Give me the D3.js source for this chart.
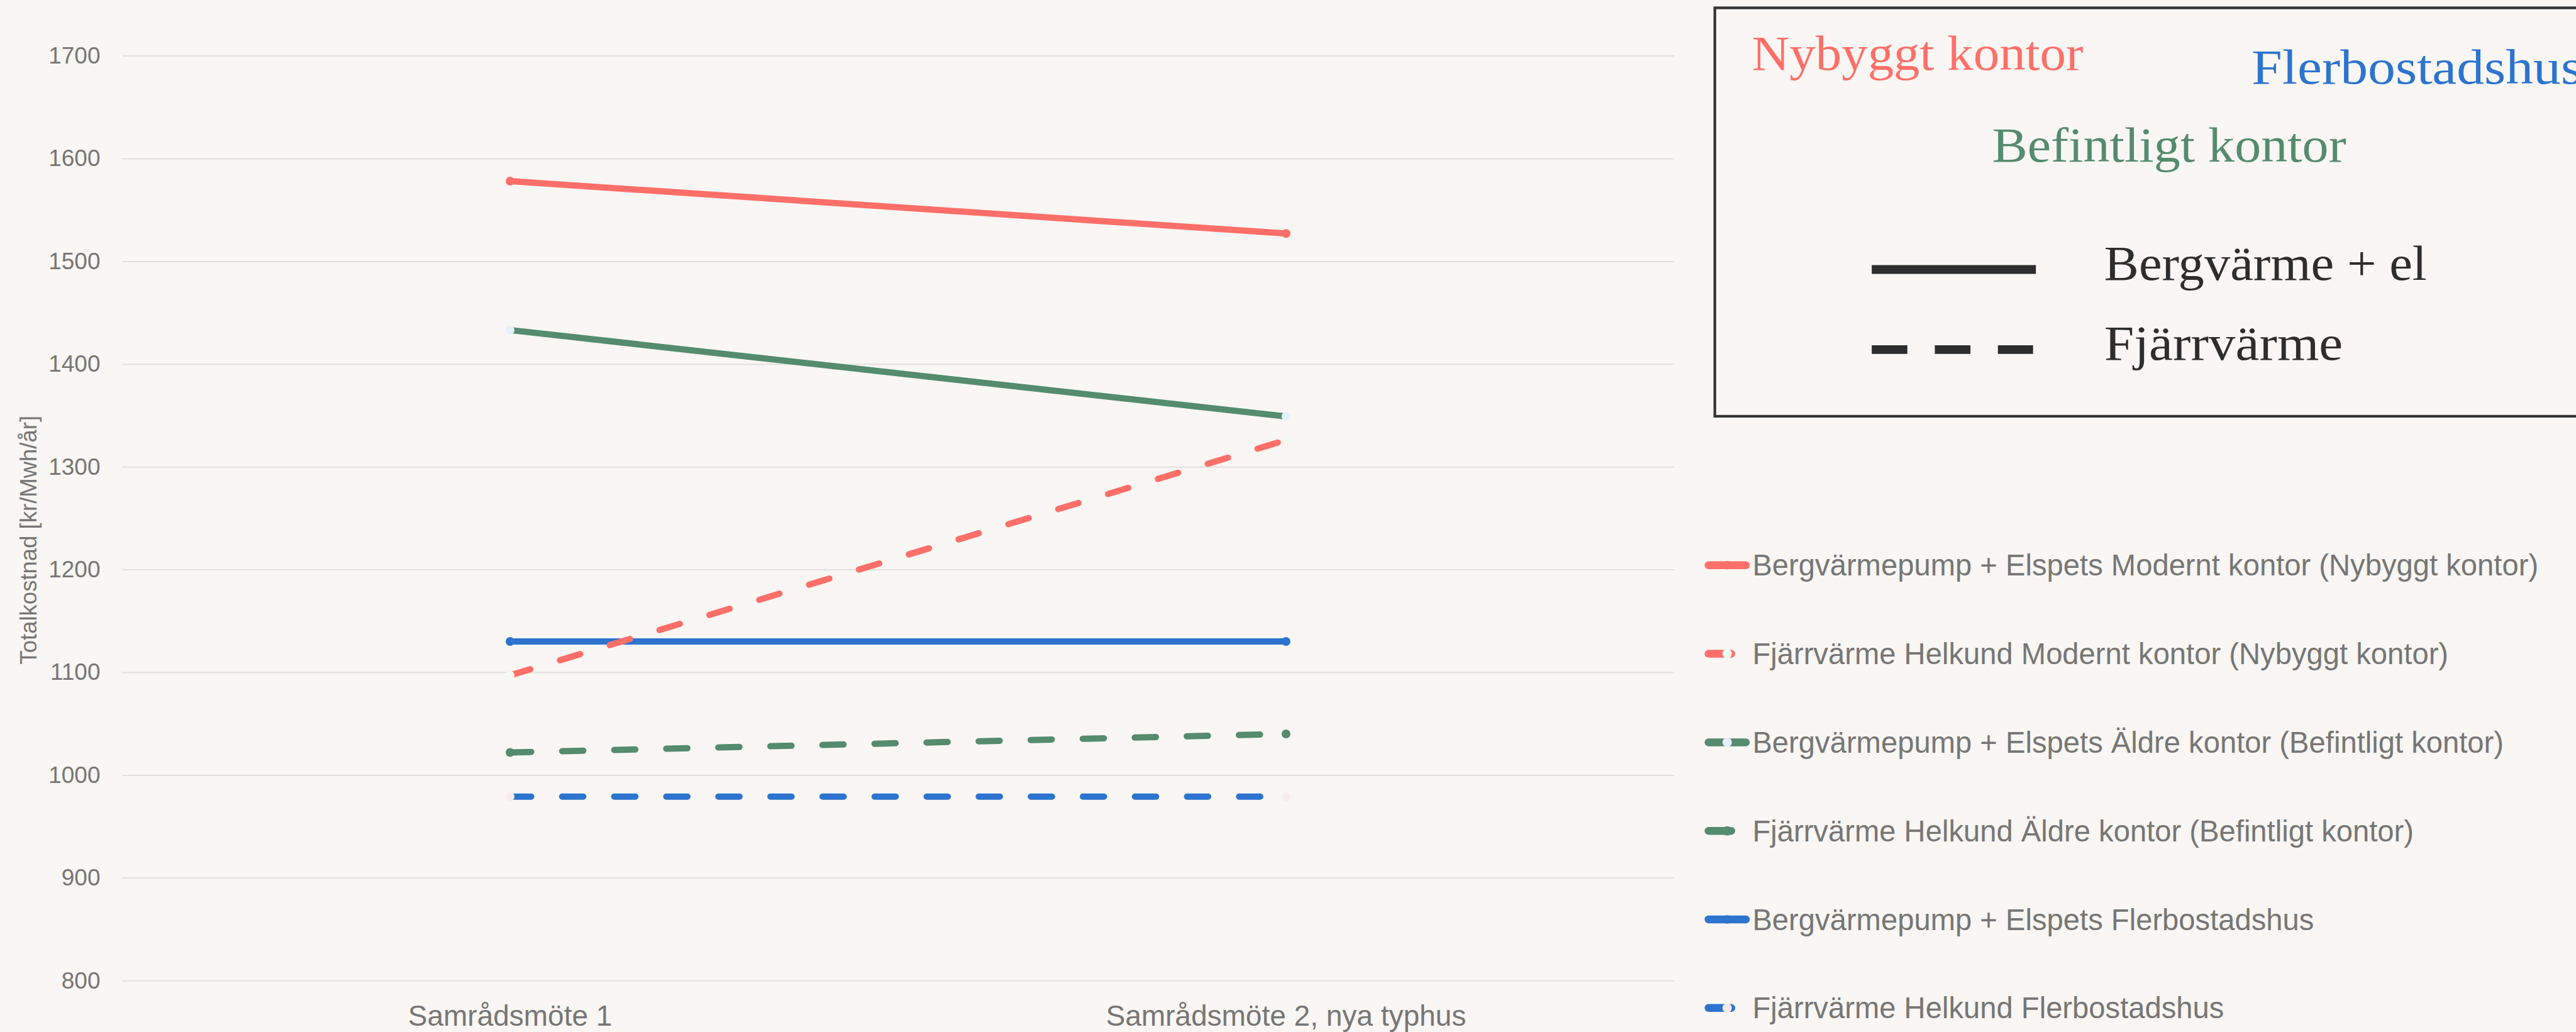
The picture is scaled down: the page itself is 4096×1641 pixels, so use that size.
<!DOCTYPE html>
<html lang="sv">
<head>
<meta charset="utf-8">
<script src="https://cdn.jsdelivr.net/npm/d3@7"></script>
<style>
  html, body { margin: 0; padding: 0; background: #f9f6f3; }
  svg { display: block; }
</style>
</head>
<body>
<svg id="chart" width="4096" height="1641"></svg>
<script>
// ---- Data ----
const categories = ["Samrådsmöte 1", "Samrådsmöte 2, nya typhus"];

const seriesNames = [
  "Bergvärmepump + Elspets Modernt kontor (Nybyggt kontor)",
  "Fjärrvärme Helkund Modernt kontor (Nybyggt kontor)",
  "Bergvärmepump + Elspets Äldre kontor (Befintligt kontor)",
  "Fjärrvärme Helkund Äldre kontor (Befintligt kontor)",
  "Bergvärmepump + Elspets Flerbostadshus",
  "Fjärrvärme Helkund Flerbostadshus"
];
const seriesValues = [
  [1578, 1527],
  [1097, 1326],
  [1433, 1349],
  [1022, 1040],
  [1130, 1130],
  [979, 979]
];
const seriesColors = ["#ff6f69", "#ff6f69", "#558b6e", "#558b6e", "#2c74cf", "#2c74cf"];
const markerColors = ["#ff6f69", "#f3faf1", "#e4effc", "#558b6e", "#2c74cf", "#f8ebea"];
const seriesDashed = [false, true, false, true, false, true];

const yTicks = [800, 900, 1000, 1100, 1200, 1300, 1400, 1500, 1600, 1700];
const yTitle = "Totalkostnad [kr/Mwh/år]";

const groupLabels = ["Nybyggt kontor", "Flerbostadshus", "Befintligt kontor"];
const groupColors = ["#ff6f69", "#2c74cf", "#558b6e"];
const styleLabels = ["Bergvärme + el", "Fjärrvärme"];

// ---- Layout ----
const W = 4096, H = 1641;
const plot = { left: 194.2, right: 2661.7, top: 88.6, bottom: 1559.2 };
const sansFont = "'Liberation Sans', Arial, sans-serif";
const serifFont = "'Liberation Serif', 'DejaVu Serif', serif";
const textGrey = "#767676";

const svg = d3.select("#chart");
svg.append("rect").attr("width", W).attr("height", H).attr("fill", "#f9f6f3");

const x = d3.scaleBand().domain(categories).range([plot.left, plot.right]);
const y = d3.scaleLinear().domain([800, 1700]).range([plot.bottom, plot.top]);
const cx = c => x(c) + x.bandwidth() / 2;

// Y axis with gridlines
const yAxis = svg.append("g")
  .attr("transform", `translate(${plot.left},0)`)
  .call(d3.axisLeft(y).tickValues(yTicks).tickSize(-(plot.right - plot.left)).tickPadding(34.7).tickFormat(d3.format("d")));
yAxis.select(".domain").remove();
yAxis.selectAll(".tick line").attr("stroke", "#e2e0de").attr("stroke-width", 2);
yAxis.selectAll(".tick text")
  .attr("fill", textGrey).attr("font-family", sansFont).attr("font-size", 37);

// Y axis title
svg.append("text")
  .attr("transform", "translate(57.9,858.7) rotate(-90)")
  .attr("text-anchor", "middle")
  .attr("fill", textGrey).attr("font-family", sansFont).attr("font-size", 36.5)
  .text(yTitle);

// X axis labels
const xAxis = svg.append("g")
  .attr("transform", `translate(0,${plot.bottom})`)
  .call(d3.axisBottom(x).tickSize(0).tickPadding(39));
xAxis.select(".domain").remove();
xAxis.selectAll(".tick text")
  .attr("fill", textGrey).attr("font-family", sansFont).attr("font-size", 46);

// Series lines (drawn last-to-first so the first series sit on top)
const lineW = 10;
const dashArr = "33.6,49.2";
const line = d3.line().x(d => cx(d.c)).y(d => y(d.v));
const order = d3.range(seriesNames.length).reverse();
order.forEach(i => {
  const pts = categories.map((c, j) => ({ c, v: seriesValues[i][j] }));
  svg.append("path")
    .datum(pts)
    .attr("d", line)
    .attr("fill", "none")
    .attr("stroke", seriesColors[i])
    .attr("stroke-width", lineW)
    .attr("stroke-linecap", "round")
    .attr("stroke-dasharray", seriesDashed[i] ? dashArr : null);
  svg.append("g").selectAll("circle")
    .data(pts).join("circle")
    .attr("cx", d => cx(d.c)).attr("cy", d => y(d.v))
    .attr("r", 7)
    .attr("fill", markerColors[i]);
});

// Series legend (right side)
const legend = { x0: 2710.7, xLong: 2782, xShort: 2758.8, xMark: 2746.3, xText: 2786.4, y0: 898.8, step: 140.8 };
seriesNames.forEach((name, i) => {
  const yy = legend.y0 + i * legend.step;
  const g = svg.append("g");
  g.append("line")
    .attr("x1", legend.x0 + 6).attr("x2", (seriesDashed[i] ? legend.xShort : legend.xLong) - 6)
    .attr("y1", yy).attr("y2", yy)
    .attr("stroke", seriesColors[i]).attr("stroke-width", 12.5).attr("stroke-linecap", "round");
  g.append("circle")
    .attr("cx", legend.xMark).attr("cy", yy).attr("r", seriesDashed[i] ? 7.4 : (i === 2 ? 7.4 : 6.8))
    .attr("fill", markerColors[i]);
  g.append("text")
    .attr("x", legend.xText).attr("y", yy)
    .attr("dy", "0.35em")
    .attr("fill", textGrey).attr("font-family", sansFont).attr("font-size", 47.2)
    .text(name);
});

// Key box: building types and heating styles
const box = svg.append("g");
box.append("rect")
  .attr("x", 2726.7).attr("y", 12.5).attr("width", 1500).attr("height", 649.4)
  .attr("fill", "none").attr("stroke", "#333").attr("stroke-width", 4.2);

const groupPos = [
  { x: 2785.6, y: 111.4, w: 527 },
  { x: 3580.0, y: 132.7, w: 526 },
  { x: 3167.7, y: 257.4, w: 563 }
];
groupLabels.forEach((t, i) => {
  box.append("text")
    .attr("x", groupPos[i].x).attr("y", groupPos[i].y)
    .attr("textLength", groupPos[i].w).attr("lengthAdjust", "spacingAndGlyphs")
    .attr("fill", groupColors[i]).attr("font-family", serifFont).attr("font-size", 78)
    .text(t);
});

const styleRows = [
  { y: 428.5, ty: 444.5, w: 513, dashed: false },
  { y: 555.9, ty: 571.9, w: 379.5, dashed: true }
];
styleLabels.forEach((t, i) => {
  const r = styleRows[i];
  box.append("line")
    .attr("x1", 2976.2).attr("x2", r.dashed ? 3232.7 : 3237.2)
    .attr("y1", r.y).attr("y2", r.y)
    .attr("stroke", "#2d2d2d").attr("stroke-width", 13.8)
    .attr("stroke-dasharray", r.dashed ? "56.6,43.7" : null);
  box.append("text")
    .attr("x", 3345.8).attr("y", r.ty)
    .attr("textLength", r.w).attr("lengthAdjust", "spacingAndGlyphs")
    .attr("fill", "#2d2d2d").attr("font-family", serifFont).attr("font-size", 78)
    .text(t);
});
</script>
</body>
</html>
